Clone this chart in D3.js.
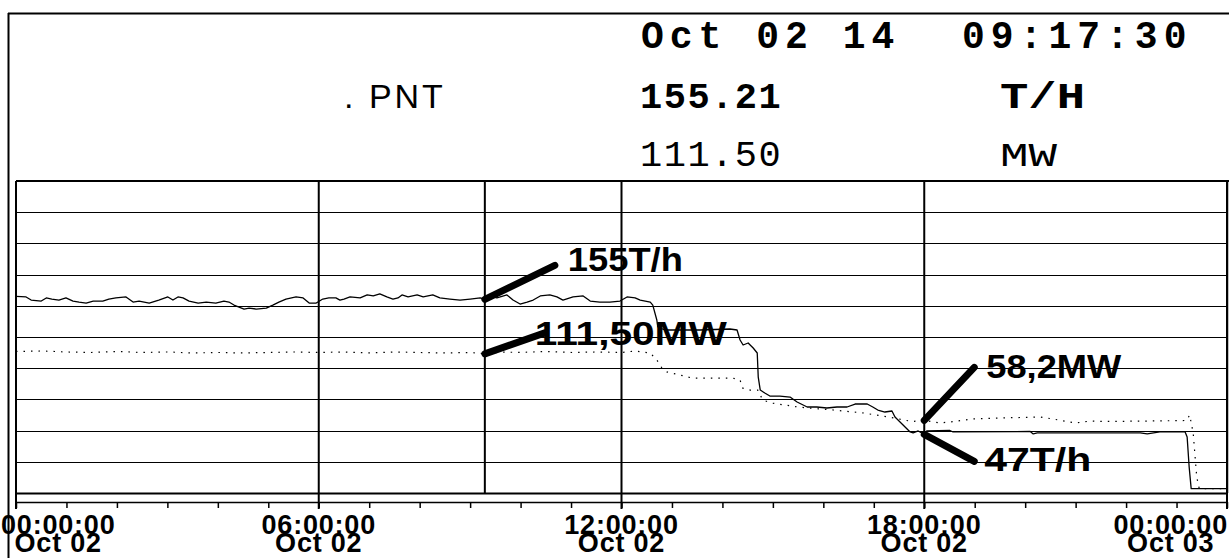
<!DOCTYPE html>
<html>
<head>
<meta charset="utf-8">
<script src="https://cdn.jsdelivr.net/npm/d3@7"></script>
<style>
  html, body { margin: 0; padding: 0; background: #fff; }
  svg { display: block; }
</style>
</head>
<body>
<svg id="chart" width="1229" height="558"></svg>
<script>
// Trend recorder: steam flow (T/H) and generator output (MW), Oct 02 14

// Steam flow trace, hours after 00:00 Oct 02
const steamHours = [0, 0.2, 0.3, 0.5, 0.6, 0.71, 0.85, 0.99, 1.13, 1.25, 1.39, 1.53, 1.72, 1.84, 1.98,
  2.18, 2.32, 2.44, 2.64, 2.83, 3.01, 3.11, 3.21, 3.31, 3.43, 3.61, 3.77, 3.96, 4.12, 4.22, 4.32,
  4.42, 4.52, 4.62, 4.76, 4.96, 5.09, 5.21, 5.35, 5.55, 5.69, 5.81, 5.95, 6.08, 6.2, 6.34, 6.42,
  6.5, 6.62, 6.82, 6.96, 7.08, 7.21, 7.35, 7.47, 7.57, 7.65, 7.77, 7.95, 8.07, 8.26, 8.4, 8.6,
  8.8, 9.0, 9.2, 9.2917, 9.39, 9.53, 9.73, 9.85, 9.99, 10.13, 10.25, 10.39, 10.58, 10.72, 10.84,
  11.04, 11.24, 11.38, 11.57, 11.77, 11.97, 12.11, 12.27, 12.37, 12.57, 12.62, 12.7, 12.72, 12.86,
  13.56, 14.15, 14.29, 14.35, 14.41, 14.51, 14.61, 14.69, 14.71, 14.75, 14.84, 14.94, 15.14, 15.34,
  15.48, 15.68, 15.87, 16.07, 16.27, 16.47, 16.63, 16.87, 16.98, 17.08, 17.22, 17.36, 17.42, 17.52,
  17.62, 17.72, 17.78, 17.88, 18, 18.05, 18.51, 18.57, 20.1, 20.16, 20.24, 22.28, 22.42, 22.67,
  23.17, 23.21, 23.25, 23.29, 24];
const steamFlow = [157.5, 157.1, 154.6, 153.8, 156.3, 155.4, 154.6, 156.3, 153.8, 153.0, 152.2, 153.8, 153.8, 155.4, 156.3,
  157.1, 153.0, 153.8, 152.2, 154.6, 157.1, 154.6, 157.1, 156.3, 153.8, 152.2, 153.0, 152.2, 153.8, 153.0, 150.6,
  149.0, 147.4, 148.2, 147.4, 148.2, 150.6, 153.0, 155.4, 157.1, 156.3, 152.2, 152.2, 155.4, 156.3, 156.3, 154.6,
  155.4, 157.1, 156.3, 158.7, 157.9, 159.5, 157.1, 155.4, 156.3, 158.7, 157.1, 158.7, 157.1, 158.7, 156.3, 155.4,
  154.6, 155.4, 156.3, 155.21, 157.9, 156.3, 158.7, 154.6, 151.4, 153.0, 154.6, 157.9, 158.7, 157.1, 154.6,
  157.1, 157.9, 153.8, 153.0, 153.0, 153.8, 157.1, 156.3, 154.6, 153.0, 150.6, 138.6, 133.0, 130.6,
  130.6, 131.4, 130.6, 122.6, 118.6, 120.2, 116.2, 112.2, 92.9, 82.5, 80.1, 77.7, 77.7, 76.9,
  72.9, 68.9, 68.9, 68.1, 68.9, 68.9, 71.3, 71.3, 68.9, 66.5, 64.9, 65.7, 60.9, 56.9,
  52.9, 48.9, 48.1, 49.7, 47, 49.7, 50.1, 48.9, 49.3, 47.3, 48.1, 48.1, 47.3, 48.9,
  48.9, 44.9, 20.8, 3.5, 3.5];

// Generator output trace, hours after 00:00 Oct 02
const powerHours = [0, 0.5, 1, 1.5, 2, 2.5, 3, 3.5, 4, 4.5, 5, 5.5, 6, 6.5, 7, 7.5, 8, 8.5, 9, 9.2917,
  9.6, 10, 10.5, 11, 11.5, 12, 12.27, 12.57, 12.7, 12.8, 12.9, 13.15, 13.4, 13.8, 14.2, 14.35, 14.4,
  14.55, 14.7, 14.8, 14.97, 15.5, 15.7, 16.2, 16.8, 17.4, 17.75, 18, 18.3, 18.51, 18.95, 19.5, 20.3,
  20.55, 21.0, 21.3, 21.6, 22.5, 23.2, 23.26, 23.33, 23.4, 23.45, 24];
const powerMW = [113.4, 113.8, 113.0, 112.6, 113.4, 112.6, 113.0, 112.2, 112.6, 112.2, 112.6, 113.0, 112.6, 113.0, 112.2, 113.0, 112.6, 112.2, 112.6, 111.5,
  113.0, 112.6, 113.4, 112.6, 113.0, 112.6, 113.8, 112.2, 106.6, 100.2, 97.0, 94.6, 92.1, 92.1, 92.1, 90.5, 84.1,
  82.5, 82.5, 74.5, 72.1, 68.9, 68.1, 66.5, 64.1, 60.1, 57.3, 58.2, 56.1, 56.9, 59.3, 60.1, 60.9,
  59.3, 56.1, 57.7, 57.3, 57.7, 58.1, 62.5, 48.1, 12.8, 3.5, 3.5];

// Header readout at the cursor
const headerDate = "Oct 02 14";
const headerTime = "09:17:30";
const pointName = ". PNT";
const readoutValues = ["155.21", "111.50"];
const readoutUnits = ["T/H", "MW"];

// Callouts on the traces
const calloutLabels = ["155T/h", "111,50MW", "58,2MW", "47T/h"];
const calloutHours = [9.2917, 9.2917, 18, 18];
const calloutValues = [155.21, 111.5, 58.2, 47];

const svg = d3.select("#chart");
const t0 = Date.UTC(2014, 9, 2);
const toDate = h => new Date(t0 + h * 3600e3);

const plotL = 16, plotR = 1227, plotT = 181, plotB = 493;
const x = d3.scaleUtc().domain([toDate(0), toDate(24)]).range([plotL, plotR]);
const y = d3.scaleLinear().domain([0, 250]).range([plotB, plotT]);

const sans = "'Liberation Sans', Arial, sans-serif";
const mono = "'Liberation Mono', 'Courier New', monospace";

// Frame
const frame = svg.append("g").attr("stroke", "#000").attr("fill", "none");
frame.append("line").attr("x1", 8).attr("x2", 1229).attr("y1", 13.5).attr("y2", 13.5).attr("stroke-width", 2);
frame.append("line").attr("x1", 8.5).attr("x2", 8.5).attr("y1", 13).attr("y2", 558).attr("stroke-width", 2);
frame.append("line").attr("x1", plotL).attr("x2", 1229).attr("y1", plotT).attr("y2", plotT).attr("stroke-width", 2);
frame.append("line").attr("x1", plotL).attr("x2", plotL).attr("y1", plotT).attr("y2", 509).attr("stroke-width", 2);
frame.append("line").attr("x1", plotR + 0.5).attr("x2", plotR + 0.5).attr("y1", plotT).attr("y2", plotB).attr("stroke-width", 1.5);

// Horizontal grid
const yTicks = d3.range(0, 251, 25);
svg.append("g").selectAll("line").data(yTicks).join("line")
  .attr("x1", plotL).attr("x2", plotR)
  .attr("y1", d => Math.round(y(d)) + 0.5).attr("y2", d => Math.round(y(d)) + 0.5)
  .attr("stroke", "#000").attr("stroke-width", d => d === 0 ? 2 : 1);

// Vertical grid every 6 hours
const majorTicks = d3.utcHour.every(6).range(toDate(0), toDate(24.01));
svg.append("g").selectAll("line").data(majorTicks).join("line")
  .attr("x1", d => x(d)).attr("x2", d => x(d))
  .attr("y1", plotT).attr("y2", 509)
  .attr("stroke", "#000").attr("stroke-width", 2);

// Cursor line
const cursor = toDate(calloutHours[0]);
svg.append("line")
  .attr("x1", x(cursor)).attr("x2", x(cursor))
  .attr("y1", plotT).attr("y2", plotB)
  .attr("stroke", "#000").attr("stroke-width", 2);

// Hourly time axis
const axis = d3.axisBottom(x)
  .ticks(d3.utcHour.every(1))
  .tickSize(6).tickSizeOuter(0)
  .tickFormat("");
const axG = svg.append("g").attr("transform", "translate(0,502)").call(axis);
axG.select(".domain").attr("stroke", "#000").attr("stroke-width", 1.5);
axG.selectAll(".tick line").attr("stroke", "#000").attr("stroke-width", 1.5);

// Time labels: two lines per major tick
const fmtTime = d3.utcFormat("%H:%M:%S");
const fmtDay = d3.utcFormat("%b %d");
const lab = svg.append("g")
  .attr("font-family", sans)
  .attr("font-weight", "bold").attr("font-size", 27).attr("fill", "#000")
  .attr("text-anchor", "middle");
majorTicks.forEach(d => {
  const t = lab.append("text").attr("y", 534).attr("letter-spacing", 0.8);
  const s1 = t.append("tspan").text(fmtTime(d));
  const s2 = t.append("tspan").attr("dy", 18).text(fmtDay(d));
  const w = s1.node().getComputedTextLength();
  const cx = Math.max(w / 2 + 1, Math.min(1228 - w / 2, x(d)));
  s1.attr("x", cx);
  s2.attr("x", cx);
});

// Traces
const steam = steamHours.map((h, i) => [toDate(h), steamFlow[i]]);
const power = powerHours.map((h, i) => [toDate(h), powerMW[i]]);
const line = d3.line().x(d => x(d[0])).y(d => y(d[1]));

svg.append("path").datum(power).attr("d", line)
  .attr("fill", "none").attr("stroke", "#000").attr("stroke-width", 1.2)
  .attr("stroke-dasharray", "1.5 6");
svg.append("path").datum(steam).attr("d", line)
  .attr("fill", "none").attr("stroke", "#000").attr("stroke-width", 1.3)
  .attr("stroke-linejoin", "round");

// Header readout
const hdr = svg.append("g").attr("fill", "#000");
hdr.append("text").attr("x", 641).attr("y", 48).attr("font-family", mono).attr("font-weight", "bold")
  .attr("font-size", 38).attr("letter-spacing", 6).text(headerDate);
hdr.append("text").attr("x", 962).attr("y", 48).attr("font-family", mono).attr("font-weight", "bold")
  .attr("font-size", 38).attr("letter-spacing", 6).text(headerTime);
hdr.append("text").attr("x", 344).attr("y", 108).attr("font-family", sans)
  .attr("font-size", 34).attr("letter-spacing", 3).text(pointName);
const unitWidths = [85, 57];
readoutValues.forEach((v, i) => {
  const yy = i === 0 ? 108 : 166;
  const wt = i === 0 ? "bold" : "normal";
  hdr.append("text").attr("x", 640).attr("y", yy).attr("font-family", mono).attr("font-weight", wt)
    .attr("font-size", 37).attr("letter-spacing", 1.5).text(v);
  hdr.append("text").attr("x", 1000).attr("y", yy).attr("font-family", mono).attr("font-weight", wt)
    .attr("font-size", i === 0 ? 37 : 33)
    .attr("textLength", unitWidths[i]).attr("lengthAdjust", "spacingAndGlyphs")
    .text(readoutUnits[i]);
});

// Callouts: pointer offsets, label offsets from the pointer end, label widths
const pointerOffsets = [[70, -34], [60, -21], [50, -53], [50, 27]];
const labelOffsets = [[13, 6], [-10, 12], [12, 11], [10, 10]];
const labelWidths = [115, 192, 135, 107];
const co = svg.append("g");
calloutLabels.forEach((txt, i) => {
  const px = x(toDate(calloutHours[i])), py = y(calloutValues[i]);
  const ex = px + pointerOffsets[i][0], ey = py + pointerOffsets[i][1];
  co.append("line").attr("x1", px).attr("y1", py).attr("x2", ex).attr("y2", ey)
    .attr("stroke", "#000").attr("stroke-width", 7).attr("stroke-linecap", "round");
  co.append("text").attr("x", ex + labelOffsets[i][0]).attr("y", ey + labelOffsets[i][1])
    .attr("font-family", sans).attr("font-weight", "bold")
    .attr("font-size", 33).attr("fill", "#000")
    .attr("textLength", labelWidths[i]).attr("lengthAdjust", "spacingAndGlyphs")
    .text(txt);
});
</script>
</body>
</html>
